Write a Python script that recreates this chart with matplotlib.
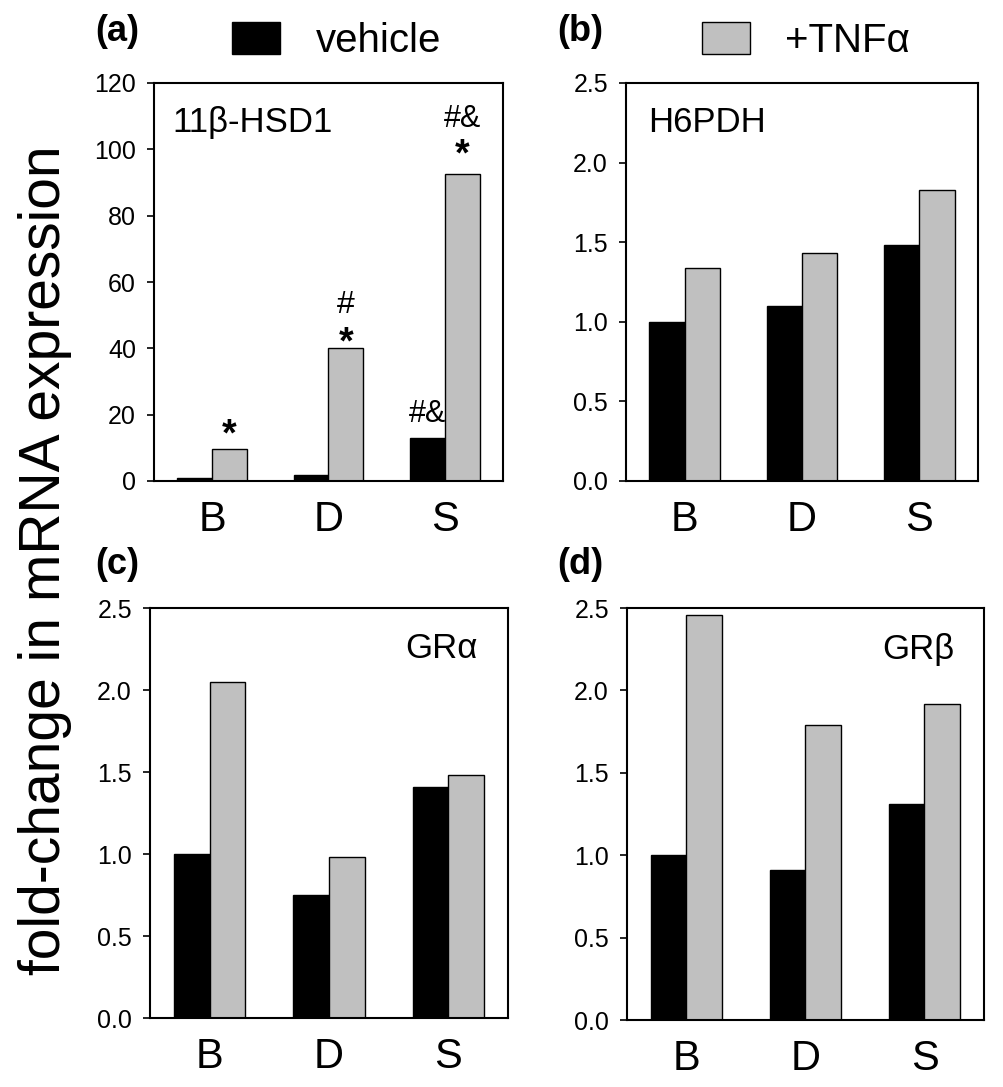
import matplotlib
matplotlib.use('Agg')
import matplotlib.pyplot as plt
import numpy as np

# ======================
# DATA
# ======================
groups = ['B', 'D', 'S']

hsd1_vehicle = [1.0, 1.7, 12.9]
hsd1_tnf = [9.5, 40.0, 92.7]

h6pdh_vehicle = [1.0, 1.10, 1.48]
h6pdh_tnf = [1.34, 1.43, 1.83]

gra_vehicle = [1.0, 0.75, 1.41]
gra_tnf = [2.05, 0.98, 1.48]

grb_vehicle = [1.0, 0.91, 1.31]
grb_tnf = [2.46, 1.79, 1.92]

# significance marks for panel (a): (group index, series, text, y, size, weight)
hsd1_marks = [
    (0, 'tnf', '*', 10.8, 27, 'bold'),
    (1, 'tnf', '*', 38.5, 27, 'bold'),
    (1, 'tnf', '#', 50.8, 23, 'normal'),
    (2, 'tnf', '*', 95.0, 27, 'bold'),
    (2, 'tnf', '#&', 106.6, 22, 'normal'),
    (2, 'vehicle', '#&', 17.8, 22, 'normal'),
]

# ======================
# STYLE
# ======================
plt.rcParams['font.family'] = ['Liberation Sans', 'DejaVu Sans']
GRAY = '#c0c0c0'
W, H = 1004, 1087
bar_w = 0.3


def rect(l, r, t, b):
    return [l / W, 1 - b / H, (r - l) / W, (b - t) / H]


def draw_panel(ax, vehicle, tnf, ymax, ystep, fmt, name, name_x, name_ha):
    x = np.arange(len(groups))
    bv = ax.bar(x - bar_w / 2, vehicle, bar_w, color='black', edgecolor='black', linewidth=1)
    bt = ax.bar(x + bar_w / 2, tnf, bar_w, color=GRAY, edgecolor='black', linewidth=1)
    ax.set_xlim(-0.5, 2.5)
    ax.set_ylim(0, ymax)
    ax.set_yticks(np.arange(0, ymax + ystep / 2, ystep))
    ax.yaxis.set_major_formatter(matplotlib.ticker.FormatStrFormatter(fmt))
    ax.set_xticks(x)
    ax.set_xticklabels(groups, fontsize=30)
    ax.tick_params(axis='x', length=0, pad=14)
    ax.tick_params(axis='y', direction='out', length=5, width=1.2, labelsize=18, pad=8)
    for s in ax.spines.values():
        s.set_linewidth(1.5)
    ax.text(name_x, 0.877, name, transform=ax.transAxes, fontsize=25,
            ha=name_ha, va='baseline')
    return bv, bt


fig = plt.figure(figsize=(W / 100, H / 100), dpi=100)

ax_a = fig.add_axes(rect(154, 503, 83, 481))
ax_b = fig.add_axes(rect(626, 978, 83, 481))
ax_c = fig.add_axes(rect(150, 508, 608, 1018))
ax_d = fig.add_axes(rect(627, 984, 608, 1020))

bv, bt = draw_panel(ax_a, hsd1_vehicle, hsd1_tnf, 120, 20, '%d', '11β-HSD1', 0.052, 'left')
draw_panel(ax_b, h6pdh_vehicle, h6pdh_tnf, 2.5, 0.5, '%.1f', 'H6PDH', 0.0625, 'left')
draw_panel(ax_c, gra_vehicle, gra_tnf, 2.5, 0.5, '%.1f', 'GRα', 0.916, 'right')
draw_panel(ax_d, grb_vehicle, grb_tnf, 2.5, 0.5, '%.1f', 'GRβ', 0.916, 'right')

# significance marks
for gi, series, txt, yv, fs, fw in hsd1_marks:
    xpos = gi + bar_w / 2 if series == 'tnf' else gi - bar_w / 2
    ax_a.text(xpos, yv, txt, ha='center', va='baseline', fontsize=fs, fontweight=fw)

# legends above top panels
leg_kw = dict(frameon=False, fontsize=29, handlelength=1.2, handleheight=0.82,
              handletextpad=0.87, borderpad=0, borderaxespad=0, loc='center left')
fig.legend([bv], ['vehicle'], bbox_to_anchor=(232 / W, 1 - 41 / H), **leg_kw)
fig.legend([bt], ['+TNFα'], bbox_to_anchor=(702 / W, 1 - 41 / H), **leg_kw)

# panel letters
for lbl, px, py in [('(a)', 95, 41), ('(b)', 557, 41), ('(c)', 95, 574), ('(d)', 557, 574)]:
    fig.text(px / W, 1 - py / H, lbl, fontsize=26, fontweight='bold', ha='left', va='baseline')

# shared y label
fig.text(45 / W, 0.485, 'fold-change in mRNA expression', rotation=90,
         fontsize=41, ha='center', va='center')

plt.savefig('out.png', dpi=100)
